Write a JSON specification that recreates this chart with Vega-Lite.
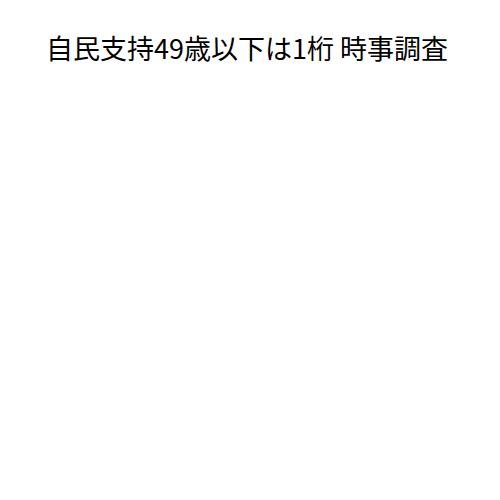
{
  "$schema": "https://vega.github.io/schema/vega-lite/v6.json",
  "autosize": {"type": "fit", "contains": "padding"},
  "width": 500,
  "height": 500,
  "padding": {"top": 37, "left": 0, "right": 6, "bottom": 0},
  "title": {
    "text": "自民支持49歳以下は1桁 時事調査",
    "font": "Noto Sans CJK JP",
    "fontSize": 27,
    "fontWeight": "normal",
    "color": "black",
    "anchor": "middle",
    "frame": "group"
  },
  "data": {"values": []},
  "mark": {"type": "point"},
  "encoding": {},
  "config": {"view": {"stroke": null}}
}
